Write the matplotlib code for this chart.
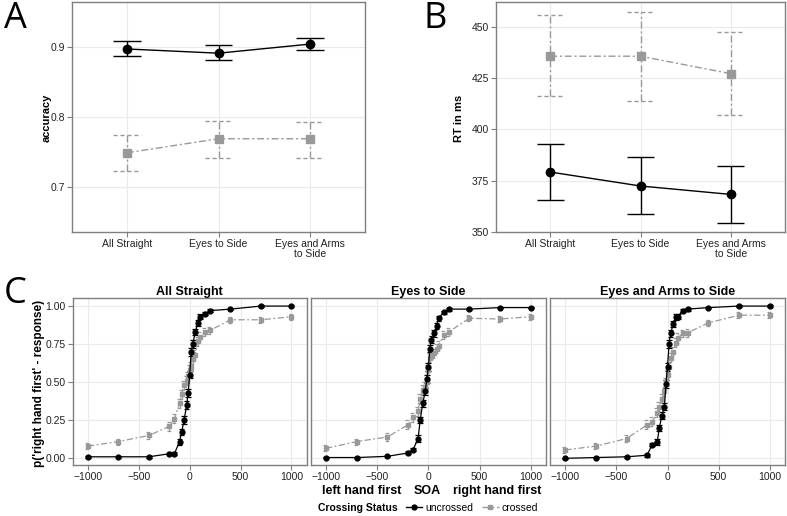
import numpy as np
import matplotlib.pyplot as plt
from matplotlib.lines import Line2D

plt.rcParams['font.family'] = ['Liberation Sans', 'DejaVu Sans']

# ------------------------------ dados ------------------------------

conds = ['All Straight', 'Eyes to Side', 'Eyes and Arms\nto Side']
facetas = ['All Straight', 'Eyes to Side', 'Eyes and Arms to Side']

# painel A - accuracy
acc_unc = [0.897, 0.891, 0.904]
acc_unc_lo = [0.887, 0.881, 0.895]
acc_unc_hi = [0.908, 0.902, 0.912]
acc_cro = [0.749, 0.769, 0.769]
acc_cro_lo = [0.723, 0.742, 0.742]
acc_cro_hi = [0.775, 0.795, 0.793]

# painel B - RT em ms
rt_unc = [379.2, 372.4, 368.3]
rt_unc_lo = [365.8, 358.7, 354.6]
rt_unc_hi = [392.8, 386.3, 382.0]
rt_cro = [435.6, 435.6, 427.1]
rt_cro_lo = [416.2, 413.9, 406.9]
rt_cro_hi = [455.5, 457.2, 447.4]

# painel C - curvas psicometricas
soa = [-1000, -700, -400, -200, -150, -100, -80, -55, -30, -15, 0,
       15, 30, 55, 80, 100, 150, 200, 400, 700, 1000]

unc1 = [0.01, 0.01, 0.01, 0.03, 0.03, 0.11, 0.17, 0.25, 0.35, 0.43, 0.55,
        0.70, 0.75, 0.83, 0.89, 0.93, 0.95, 0.97, 0.98, 1.00, 1.00]
cro1 = [0.08, 0.11, 0.15, 0.21, 0.26, 0.36, 0.42, 0.48, 0.51, 0.54, 0.58,
        0.60, 0.65, 0.68, 0.77, 0.80, 0.83, 0.84, 0.91, 0.91, 0.93]
unc2 = [0.005, 0.005, 0.013, 0.035, 0.055, 0.13, 0.25, 0.36, 0.44, 0.52, 0.60,
        0.72, 0.78, 0.82, 0.87, 0.92, 0.96, 0.98, 0.98, 0.99, 0.99]
cro2 = [0.065, 0.11, 0.14, 0.22, 0.27, 0.31, 0.39, 0.45, 0.47, 0.50, 0.58,
        0.66, 0.68, 0.69, 0.72, 0.74, 0.81, 0.83, 0.92, 0.915, 0.93]
unc3 = [0.0, 0.005, 0.01, 0.02, 0.09, 0.11, 0.20, 0.28, 0.34, 0.49, 0.60,
        0.75, 0.82, 0.88, 0.93, 0.93, 0.97, 0.98, 0.99, 1.00, 1.00]
cro3 = [0.055, 0.08, 0.13, 0.22, 0.24, 0.30, 0.34, 0.39, 0.44, 0.50, 0.55,
        0.60, 0.66, 0.70, 0.76, 0.79, 0.82, 0.825, 0.89, 0.94, 0.94]

se_unc = [0.005, 0.005, 0.005, 0.01, 0.01, 0.02, 0.02, 0.025, 0.025, 0.025, 0.025,
          0.025, 0.025, 0.02, 0.02, 0.015, 0.01, 0.01, 0.005, 0.005, 0.005]
se_cro = [0.02, 0.02, 0.025, 0.03, 0.03, 0.03, 0.03, 0.03, 0.03, 0.03, 0.03,
          0.03, 0.03, 0.03, 0.03, 0.03, 0.025, 0.025, 0.02, 0.02, 0.02]

# ------------------------------ estilo ------------------------------

PRETO = 'black'
CINZA = '#999999'
DOTDASH = (0, (5, 2, 1.5, 2))
TRACO = (0, (3, 2))
GRADE = '#ebebeb'
BORDA = '#7f7f7f'
TEXTO = '#222222'
LETRA = ['Open Sans', 'DejaVu Sans']


def estilo(ax):
    ax.grid(True, color=GRADE, lw=0.8)
    ax.set_axisbelow(True)
    for s in ax.spines.values():
        s.set_color(BORDA)
        s.set_linewidth(1)
    ax.tick_params(colors=BORDA, labelcolor=TEXTO, length=3.5, width=0.8, pad=1.5)


def serie(ax, x, y, lo, hi, cor, ls, mk, ms, cap, capls, lw=1):
    x = np.asarray(x, dtype=float)
    ax.vlines(x, lo, hi, color=cor, lw=lw, linestyles=ls, zorder=2)
    ax.hlines(lo, x - cap, x + cap, color=cor, lw=lw, linestyles=capls, zorder=2)
    ax.hlines(hi, x - cap, x + cap, color=cor, lw=lw, linestyles=capls, zorder=2)
    ax.plot(x, y, color=cor, ls=ls, lw=lw, marker=mk, ms=ms, zorder=3)


fig = plt.figure(figsize=(7.87, 5.16), dpi=100)
W, H = 787, 516


def eixo(x0, x1, y0, y1):
    return fig.add_axes([x0 / W, 1 - y1 / H, (x1 - x0) / W, (y1 - y0) / H])


# ------------------------------ painel A ------------------------------
axA = eixo(72, 365, 2, 232)
estilo(axA)
xc = np.arange(1, len(conds) + 1)
serie(axA, xc, acc_cro, acc_cro_lo, acc_cro_hi, CINZA, DOTDASH, 's', 5.5, 0.15, TRACO)
serie(axA, xc, acc_unc, acc_unc_lo, acc_unc_hi, PRETO, '-', 'o', 6, 0.15, '-')
axA.set_xlim(0.4, 3.6)
axA.set_ylim(0.636, 0.964)
axA.set_yticks([0.7, 0.8, 0.9])
axA.set_yticklabels(['0.7', '0.8', '0.9'])
axA.set_xticks(xc)
axA.set_xticklabels(conds, fontsize=7.5, linespacing=0.95)
axA.tick_params(axis='y', labelsize=7.5)
fig.text(47 / W, 1 - 118 / H, 'accuracy', rotation=90, fontsize=8,
         fontweight='bold', ha='center', va='center')

# ------------------------------ painel B ------------------------------
axB = eixo(496, 785, 2, 232)
estilo(axB)
serie(axB, xc, rt_cro, rt_cro_lo, rt_cro_hi, CINZA, DOTDASH, 's', 5.5, 0.15, TRACO)
serie(axB, xc, rt_unc, rt_unc_lo, rt_unc_hi, PRETO, '-', 'o', 6, 0.15, '-')
axB.set_xlim(0.4, 3.6)
axB.set_ylim(350, 462)
axB.set_yticks([350, 375, 400, 425, 450])
axB.set_xticks(xc)
axB.set_xticklabels(conds, fontsize=7.5, linespacing=0.95)
axB.tick_params(axis='y', labelsize=7.5)
fig.text(459 / W, 1 - 118 / H, 'RT in ms', rotation=90, fontsize=8,
         fontweight='bold', ha='center', va='center')

# ------------------------------ painel C ------------------------------
limites = [(72.7, 306.7), (310.7, 546), (550, 785)]
dados_unc = [unc1, unc2, unc3]
dados_cro = [cro1, cro2, cro3]
for i, (x0, x1) in enumerate(limites):
    ax = eixo(x0, x1, 298, 465)
    estilo(ax)
    u = np.array(dados_unc[i])
    c = np.array(dados_cro[i])
    serie(ax, soa, c, c - np.array(se_cro), c + np.array(se_cro), CINZA,
          DOTDASH, 's', 3.5, 28, TRACO, lw=0.9)
    serie(ax, soa, u, u - np.array(se_unc), u + np.array(se_unc), PRETO,
          '-', 'o', 3.5, 28, '-', lw=0.9)
    ax.set_xlim(-1150, 1150)
    ax.set_ylim(-0.044, 1.053)
    ax.set_xticks([-1000, -500, 0, 500, 1000])
    ax.set_yticks([0, 0.25, 0.5, 0.75, 1.0])
    ax.tick_params(labelsize=7.5)
    if i == 0:
        ax.set_yticklabels(['0.00', '0.25', '0.50', '0.75', '1.00'])
    else:
        ax.tick_params(axis='y', length=0, labelleft=False)
    ax.set_title(facetas[i], fontsize=9, fontweight='bold', pad=2)

fig.text(39 / W, 1 - 383 / H, "p('right hand first' - response)", rotation=90,
         fontsize=8.5, fontweight='bold', ha='center', va='center')
# titulo do eixo x em tres partes
for txt, xm in [('left hand first', 362), ('SOA', 427), ('right hand first', 497)]:
    fig.text(xm / W, 1 - 491 / H, txt, fontsize=9, fontweight='bold',
             ha='center', va='center')

# legenda
h_unc = Line2D([], [], color=PRETO, ls='-', marker='o', ms=3.5, lw=1)
h_cro = Line2D([], [], color=CINZA, ls=DOTDASH, marker='s', ms=3.5, lw=1)
leg = fig.legend([h_unc, h_cro], ['uncrossed', 'crossed'], title='Crossing Status',
                 loc='center', bbox_to_anchor=(428 / W, 1 - 508 / H), ncol=3,
                 frameon=False, fontsize=7.5,
                 title_fontproperties={'weight': 'bold', 'size': 7.5},
                 handlelength=1.6, handletextpad=0.3, columnspacing=0.5, borderpad=0)
# titulo da legenda ao lado, como no ggplot
leg._legend_box._children.remove(leg._legend_title_box)
leg._legend_box._children[0]._children.insert(0, leg._legend_title_box)
leg._legend_box._children[0].sep = 6

# letras dos paineis
fig.text(4 / W, 1 - 19 / H, 'A', fontsize=26, fontfamily=LETRA, ha='left', va='center')
fig.text(424 / W, 1 - 19 / H, 'B', fontsize=26, fontfamily=LETRA, ha='left', va='center')
fig.text(4 / W, 1 - 294 / H, 'C', fontsize=26, fontfamily=LETRA, ha='left', va='center')

fig.savefig('out.png', dpi=100)
